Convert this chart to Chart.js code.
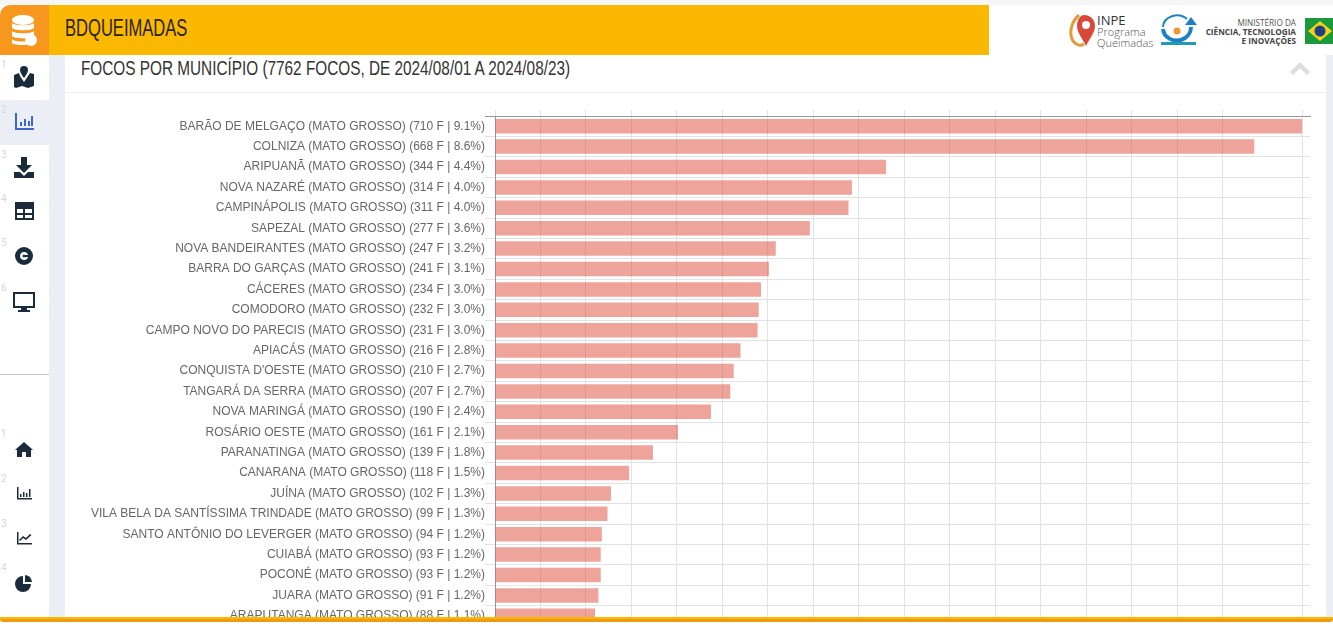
<!DOCTYPE html>
<html lang="pt-BR">
<head>
<meta charset="utf-8">
<title>BDQUEIMADAS</title>
<script src="https://cdn.jsdelivr.net/npm/chart.js@4/dist/chart.umd.min.js"></script>
<style>
  html, body { margin: 0; height: 100%; overflow: hidden; background: #fff; font-family: Roboto, sans-serif; }
  .box { position: absolute; }
  #topStrip { left: 0; top: 0; width: 1333px; height: 5px; background: #f6f6f6; }
  #brand { left: 0; top: 5px; width: 49px; height: 50px; background: #f7971e; border-top-left-radius: 10px; }
  #header { left: 49px; top: 5px; width: 940px; height: 50px; background: #fab800; }
  #appName { left: 65px; top: 5px; font: 24px/45px "Liberation Sans", sans-serif; color: #2b2415; transform: scaleX(0.69); transform-origin: left center; }
  #gutter { left: 49px; top: 55px; width: 16px; height: 562px; background: #ebeff5; }
  #gutterRight { left: 1326px; top: 55px; width: 7px; height: 562px; background: #ebeff5; }
  #activeItem { left: 0; top: 100px; width: 49px; height: 45px; background: #ebeff5; }
  #panelLine { left: 65px; top: 92px; width: 1261px; height: 1px; background: #eeeeee; }
  #panelTitle { left: 81px; top: 55px; font: 21px/26px "Liberation Sans", sans-serif; color: #333; white-space: nowrap; transform: scaleX(0.73); transform-origin: left center; }
  #sideLine { left: 0; top: 374px; width: 49px; height: 1px; background: #cccccc; }
  #footer { left: 0; top: 617px; width: 1333px; height: 9px; background: #fff; }
  #footer div { height: 2px; background: #fab800; }
  #footer div + div { height: 3px; background: #ef9a12; border-radius: 0 0 3px 3px; }
  #chartWrap { left: 65px; top: 99px; width: 1261px; height: 527px; }
  .num { position: absolute; left: 1px; font: 10px/12px Roboto, sans-serif; color: #d8d8d8; }
  .icon { position: absolute; left: 12px; width: 24px; height: 24px; fill: #1a2b3c; }
  .logoText { position: absolute; white-space: nowrap; }
</style>
</head>
<body>
<div class="box" id="topStrip"></div>
<div class="box" id="gutter"></div>
<div class="box" id="gutterRight"></div>
<div class="box" id="activeItem"></div>
<div class="box" id="panelLine"></div>
<div class="box" id="panelTitle">FOCOS POR MUNICÍPIO (7762 FOCOS, DE 2024/08/01 A 2024/08/23)</div>
<div class="box" id="sideLine"></div>

<div class="box" id="chartWrap"><canvas id="focosChart" width="1261" height="527"></canvas></div>

<div class="box" id="brand">
  <svg width="49" height="50" viewBox="0 0 49 50" fill="#fff">
    <ellipse cx="23" cy="15" rx="11" ry="5"/>
    <path d="M12 18c2 3 20 3 22 0v5c-2 3-20 3-22 0z"/>
    <path d="M12 26c2 3 20 3 22 0v5c-2 3-20 3-22 0z"/>
    <path d="M12 34c2 3 14 3 17 2v3c-4 2-15 1-17-1z"/>
    <circle cx="31" cy="35" r="6"/>
  </svg>
</div>
<div class="box" id="header"></div>
<div class="box" id="appName">BDQUEIMADAS</div>

<!-- logos -->
<svg class="box" style="left:1068px;top:12px" width="30" height="36" viewBox="0 0 30 36">
  <path d="M11 3C4 9 1 19 4 27c2 5 8 8 12 5" fill="none" stroke="#e49a3b" stroke-width="3"/>
  <path d="M16 3c7 0 11 5 11 11 0 7-6 13-9 20-3-7-9-13-9-20 0-6 3-11 7-11z" fill="#d9493a"/>
  <circle cx="18" cy="13" r="4" fill="#fff"/>
</svg>
<div class="logoText" style="left:1097px;top:13px;font:13px/14px 'Open Sans';color:#333">INPE</div>
<div class="logoText" style="left:1097px;top:26px;font:300 11px/12px 'Open Sans';color:#555">Programa</div>
<div class="logoText" style="left:1097px;top:37px;font:300 11px/12px 'Open Sans';color:#555">Queimadas</div>
<svg class="box" style="left:1160px;top:13px" width="38" height="34" viewBox="0 0 38 34">
  <path d="M3 14a14 12 0 0 1 24-8" fill="none" stroke="#1c82c4" stroke-width="2"/>
  <path d="M3 16c1 9 10 13 18 11 6-2 10-7 10-13" fill="none" stroke="#1c82c4" stroke-width="4"/>
  <path d="M31 4l6 8h-12z" fill="#1c82c4"/>
  <circle cx="17" cy="18" r="3.500" fill="#f2992e"/>
  <rect x="1" y="29" width="35" height="3" fill="#1c9cb8"/>
</svg>
<div class="logoText" style="right:37px;top:18px;font:8.200px/9px 'Open Sans';color:#555">MINISTÉRIO DA</div>
<div class="logoText" style="right:37px;top:27px;font:bold 8.200px/9px 'Open Sans';color:#444">CIÊNCIA, TECNOLOGIA</div>
<div class="logoText" style="right:37px;top:36px;font:bold 8.200px/9px 'Open Sans';color:#444">E INOVAÇÕES</div>
<svg class="box" style="left:1305px;top:18px" width="28" height="26" viewBox="0 0 28 26">
  <rect width="28" height="26" fill="#1a9a3c"/>
  <path d="M3 13L15 3l12 10-12 10z" fill="#f7d117"/>
  <circle cx="15" cy="13" r="5.500" fill="#1f3f86"/>
</svg>
<svg class="box" style="left:1289px;top:60px" width="22" height="16" viewBox="0 0 22 16">
  <path d="M1 12l10-10 10 10-3 3-7-7-7 7z" fill="#dddddd"/>
</svg>

<!-- side menu -->
<span class="num" style="top:59px">1</span>
<svg class="icon" style="top:65px" viewBox="0 0 24 24"><path d="M12 1a4 4 0 0 1 4 4c0 3-4 8-4 8S8 8 8 5a4 4 0 0 1 4-4zM2 10l5-2 1 3 4 6 4-6 2-3 4 1v12l-6 2-6-2-6 2-2-1z"/></svg>
<span class="num" style="top:104px">2</span>
<svg class="icon" style="top:109px;fill:#3f67c8" viewBox="0 0 24 24"><path d="M3 4h2v15h17v2H3zM8 13h2v4H8zM12 10h2v7h-2zM16 12h2v5h-2zM19 7h2v10h-2z"/></svg>
<span class="num" style="top:149px">3</span>
<svg class="icon" style="top:155px" viewBox="0 0 24 24"><path d="M9 2h6v8h5l-8 8-8-8h5zM2 17h6l4 4 4-4h6v6H2z"/></svg>
<span class="num" style="top:193px">4</span>
<svg class="icon" style="top:199px" viewBox="0 0 24 24"><path fill-rule="evenodd" d="M3 3h19v18H3zM5 10v4h6v-4zM13 10v4h7v-4zM5 16v3h6v-3zM13 16v3h7v-3z"/></svg>
<span class="num" style="top:237px">5</span>
<svg class="icon" style="top:244px" viewBox="0 0 24 24"><path fill-rule="evenodd" d="M12 3a9 9 0 1 1 0 18 9 9 0 0 1 0-18zm0 5a4 4 0 1 0 4 5h-3a1.400 1.400 0 1 1 0-2h3a4 4 0 0 0-4-3z"/></svg>
<span class="num" style="top:282px">6</span>
<svg class="icon" style="top:289px" viewBox="0 0 24 24"><path fill-rule="evenodd" d="M1 3h22v16h-8v2h3v2H6v-2h3v-2H1zM3 5v12h18V5z"/></svg>

<span class="num" style="top:428px">1</span>
<svg class="icon" style="top:437px" viewBox="0 0 24 24"><path d="M12 5l9 8h-2v7h-5v-5h-4v5H5v-7H3z"/></svg>
<span class="num" style="top:473px">2</span>
<svg class="icon" style="top:481px" viewBox="0 0 24 24"><path d="M5 6h1.500v11H20v1.500H5zM8 13h1.500v3H8zM11 11h1.500v5H11zM14 12h1.500v4H14zM17 8h1.500v8H17z"/></svg>
<span class="num" style="top:518px">3</span>
<svg class="icon" style="top:526px" viewBox="0 0 24 24"><path d="M5 6h1.500v11H20v1.500H5zM8 15l-1-1 4-4 3 2 4-4 1.500 1-5.500 5-3-2z"/></svg>
<span class="num" style="top:562px">4</span>
<svg class="icon" style="top:571px" viewBox="0 0 24 24"><path d="M11 5v8h8a8 8 0 1 1-8-8zM13 4a8 8 0 0 1 7 7h-7z"/></svg>

<div class="box" id="footer"><div></div><div></div></div>

<script>
const municipios = [
  'BARÃO DE MELGAÇO', 'COLNIZA', 'ARIPUANÃ', 'NOVA NAZARÉ', 'CAMPINÁPOLIS',
  'SAPEZAL', 'NOVA BANDEIRANTES', 'BARRA DO GARÇAS', 'CÁCERES', 'COMODORO',
  'CAMPO NOVO DO PARECIS', 'APIACÁS', "CONQUISTA D'OESTE", 'TANGARÁ DA SERRA', 'NOVA MARINGÁ',
  'ROSÁRIO OESTE', 'PARANATINGA', 'CANARANA', 'JUÍNA', 'VILA BELA DA SANTÍSSIMA TRINDADE',
  'SANTO ANTÔNIO DO LEVERGER', 'CUIABÁ', 'POCONÉ', 'JUARA', 'ARAPUTANGA'
];
const focos = [710, 668, 344, 314, 311, 277, 247, 241, 234, 232, 231, 216, 210, 207, 190, 161, 139, 118, 102, 99, 94, 93, 93, 91, 88];
const percentuais = ['9.1', '8.6', '4.4', '4.0', '4.0', '3.6', '3.2', '3.1', '3.0', '3.0', '3.0', '2.8', '2.7', '2.7', '2.4', '2.1', '1.8', '1.5', '1.3', '1.3', '1.2', '1.2', '1.2', '1.2', '1.1'];
const xTicks = [0, 40, 80, 120, 160, 200, 240, 280, 320, 360, 400, 440, 480, 520, 560, 600, 640, 710];

const labels = municipios.map((m, i) => `${m} (MATO GROSSO) (${focos[i]} F | ${percentuais[i]}%)`);

const ctx = document.getElementById('focosChart').getContext('2d');

new Chart(ctx, {
    type: 'bar',
    data: {
        labels: labels,
        datasets: [{
            data: focos,
            backgroundColor: 'rgba(222, 78, 64, 0.52)',
            barPercentage: 0.8,
            categoryPercentage: 0.89
        }]
    },
    options: {
        indexAxis: 'y',
        responsive: false,
        animation: false,
        layout: { padding: { top: 11, right: 16, bottom: 0, left: 0 } },
        plugins: { legend: { display: false }, tooltip: { enabled: false } },
        scales: {
            x: {
                position: 'top',
                min: 0,
                max: 717,
                afterBuildTicks: (scale) => { scale.ticks = xTicks.map(v => ({ value: v })); },
                afterFit: (scale) => {
                    scale.height = 6;
                    scale.paddingLeft = 0;
                    scale.paddingRight = 0;
                },
                grid: { color: '#e2e2e2', tickLength: 6 },
                border: { color: '#999999' },
                ticks: { display: false, autoSkip: false }
            },
            y: {
                // keep the rows at a fixed height, labels may not push the plot area in
                afterFit: (scale) => {
                    scale.width = 430;
                    scale.paddingTop = 0;
                    scale.paddingBottom = 0;
                },
                grid: {
                    color: (c) => c.index === 0 ? '#999999' : '#e2e2e2',
                    tickLength: 10
                },
                border: { color: '#999999' },
                ticks: {
                    autoSkip: false,
                    padding: 0,
                    color: '#666666',
                    font: { family: '"Liberation Sans"', size: 12 }
                }
            }
        }
    }
});
</script>
</body>
</html>
